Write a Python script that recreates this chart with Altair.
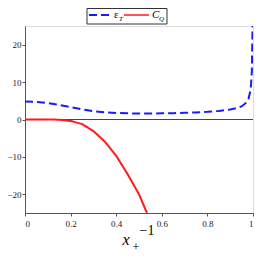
import altair as alt
import pandas as pd

# epsilon_T (blue dashed)
eps_x = [0, 0.05, 0.1, 0.15, 0.2, 0.25, 0.3, 0.35, 0.4, 0.45, 0.5, 0.55, 0.6, 0.65,
         0.7, 0.75, 0.8, 0.85, 0.9, 0.93, 0.95, 0.97, 0.98, 0.99, 0.995, 0.998]
eps_y = [4.8, 4.7, 4.4, 3.9, 3.3, 2.7, 2.2, 1.9, 1.75, 1.65, 1.6, 1.6, 1.65, 1.7,
         1.8, 1.9, 2.05, 2.3, 2.7, 3.1, 3.5, 4.5, 5.5, 8.0, 13.0, 25.0]
# C_Q (red solid)
cq_x = [0, 0.1, 0.15, 0.2, 0.25, 0.3, 0.35, 0.4, 0.45, 0.5, 0.535]
cq_y = [0, 0, -0.05, -0.4, -1.2, -3.1, -5.9, -9.7, -14.6, -20.0, -25.0]

x_ticks = [0, 0.2, 0.4, 0.6, 0.8, 1]
y_ticks = [-20, -10, 0, 10, 20]

df = pd.concat([
    pd.DataFrame({"x": eps_x, "y": eps_y, "s": "eps"}),
    pd.DataFrame({"x": cq_x, "y": cq_y, "s": "cq"}),
])

W, H = 228, 187
FONT = "Liberation Serif"

xs = alt.Scale(domain=[0, 1], nice=False)
ys = alt.Scale(domain=[-25, 25], nice=False)

lines = alt.Chart(df).mark_line(clip=True, strokeWidth=2).encode(
    x=alt.X("x:Q", scale=xs,
            axis=alt.Axis(values=x_ticks, title=None, labelFont=FONT, labelFontSize=9,
                          labelColor="#222", tickSize=3, domainColor="#555", tickColor="#555",
                          grid=False, labelPadding=3,
                          labelExpr="datum.value == 0 ? '0' : datum.value == 1 ? '1' : format(datum.value, '.1f')")),
    y=alt.Y("y:Q", scale=ys,
            axis=alt.Axis(values=y_ticks, title=None, labelFont=FONT, labelFontSize=9,
                          labelColor="#222", tickSize=3, domainColor="#555", tickColor="#555",
                          grid=False, labelPadding=1)),
    color=alt.Color("s:N", scale=alt.Scale(domain=["eps", "cq"], range=["#1a1aff", "#ff1a1a"]), legend=None),
    strokeDash=alt.StrokeDash("s:N", scale=alt.Scale(domain=["eps", "cq"], range=[[8, 4], [1, 0]]), legend=None),
)

zero = alt.Chart(pd.DataFrame({"y": [0]})).mark_rule(color="#444", strokeWidth=1).encode(
    y=alt.Y("y:Q", scale=ys)
)

# legend box
box = alt.Chart(pd.DataFrame({"a": [0]})).mark_rect(fill="white", stroke="#333", strokeWidth=1).encode(
    x=alt.value(62), x2=alt.value(142), y=alt.value(-17.5), y2=alt.value(-2)
)
leg_blue = alt.Chart(pd.DataFrame({"a": [0]})).mark_rule(color="#1a1aff", strokeWidth=2, strokeDash=[8, 4]).encode(
    x=alt.value(64), x2=alt.value(86), y=alt.value(-11)
)
leg_red = alt.Chart(pd.DataFrame({"a": [0]})).mark_rule(color="#ff1a1a", strokeWidth=1.5).encode(
    x=alt.value(99), x2=alt.value(124), y=alt.value(-11)
)

def txt(t, x, y, size, italic=False):
    return alt.Chart(pd.DataFrame({"t": [t]})).mark_text(
        font=FONT, fontSize=size, fontStyle="italic" if italic else "normal",
        align="left", baseline="middle", color="black"
    ).encode(text="t:N", x=alt.value(x), y=alt.value(y))

legend_texts = [
    txt("ε", 89, -11, 11),
    txt("T", 94, -7, 7, True),
    txt("C", 127, -11.5, 11, True),
    txt("Q", 134, -7, 7, True),
]

title_texts = [
    alt.Chart(pd.DataFrame({"t": ["x"]})).mark_text(font=FONT, fontSize=16, fontStyle="italic",
        align="center", baseline="middle").encode(text="t:N", x=alt.value(101), y=alt.value(214)),
    alt.Chart(pd.DataFrame({"t": ["−1"]})).mark_text(font=FONT, fontSize=14,
        align="center", baseline="middle").encode(text="t:N", x=alt.value(122), y=alt.value(205)),
    alt.Chart(pd.DataFrame({"t": ["+"]})).mark_text(font=FONT, fontSize=13,
        align="center", baseline="middle").encode(text="t:N", x=alt.value(111), y=alt.value(221)),
]

chart = alt.layer(zero, lines, box, leg_blue, leg_red, *legend_texts, *title_texts).properties(
    width=W, height=H,
    autosize=alt.AutoSizeParams(type="none"),
    padding={"left": 17, "top": 18, "right": 1, "bottom": 41},
).configure_view(stroke="#555", strokeWidth=1.5).configure(background="white")

chart.save("out.html", embed_options={"renderer": "svg", "actions": False})
